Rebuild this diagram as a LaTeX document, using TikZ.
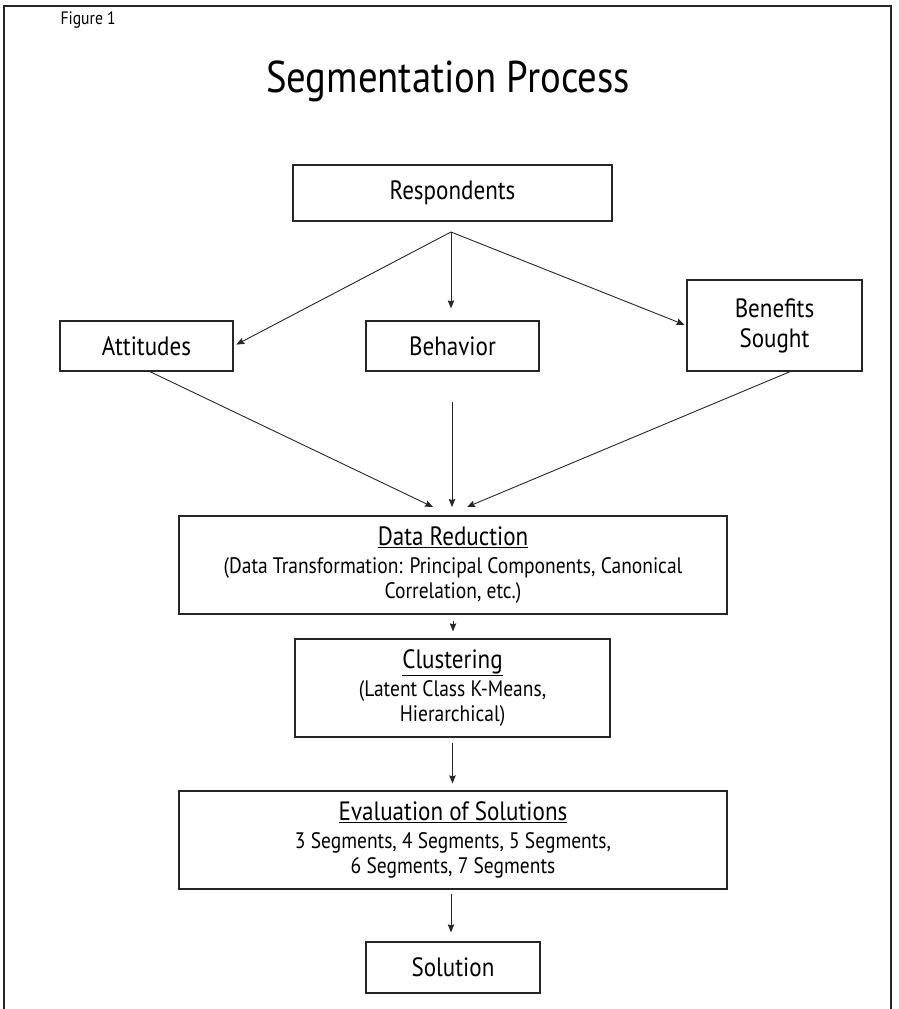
\documentclass[tikz,border=0pt]{standalone}
\usepackage{fontspec}
\setmainfont[FakeStretch=0.87]{PT Sans}
\usetikzlibrary{arrows.meta}
\newcommand\hdfont{\fontsize{26.5}{27}\selectfont}
\newcommand\smfont{\fontsize{22.4}{27}\selectfont}
\begin{document}
\begin{tikzpicture}[x=1pt,y=-1pt,
  box/.style={draw=black!85, line width=1.3pt, inner sep=0pt, align=center, font=\hdfont},
  arr/.style={-{Stealth[length=8pt,width=6.5pt,inset=1pt]}, line width=0.9pt, draw=black!85}]
\useasboundingbox (0,0) rectangle (898,1009);
% frame
\draw[line width=1.5pt, black!85] (4,1009) -- (4,6) -- (891,6) -- (891,1009);
% texts
\node[font=\fontsize{18}{20}\selectfont, anchor=west] (fig) at (57,20) {Figure 1};
\node[font=\fontsize{44.5}{48}\selectfont] (title) at (448,81) {Segmentation Process};
% boxes
\node[box, minimum width=319pt, minimum height=56pt] (resp) at (452.5,193) {Respondents};
\coordinate (br) at (451,232);
\node[box, minimum width=173pt, minimum height=50pt] (att) at (146.5,346) {Attitudes};
\node[box, minimum width=173pt, minimum height=50pt] (beh) at (452.5,346) {Behavior};
\node[box, minimum width=175pt, minimum height=91pt] (ben) at (774.5,325.5) {Benefits\\[3pt]Sought};
\node[box, minimum width=548pt, minimum height=98pt] (dr) at (453,565)
  {\underline{Data Reduction}\\[1pt]\smfont (Data Transformation: Principal Components, Canonical\\[-2pt]\smfont Correlation, etc.)};
\node[box, minimum width=315pt, minimum height=98pt] (cl) at (452.5,688)
  {\underline{Clustering}\\[1pt]\smfont (Latent Class K-Means,\\[-2pt]\smfont Hierarchical)};
\node[box, minimum width=548pt, minimum height=98pt] (ev) at (453,840)
  {\underline{Evaluation of Solutions}\\[1pt]\smfont 3 Segments, 4 Segments, 5 Segments,\\[-2pt]\smfont 6 Segments, 7 Segments};
\node[box, minimum width=174pt, minimum height=51pt] (sol) at (453,967.5) {Solution};
% connectors
\draw[arr, shorten >=3pt] (br) -- (att.east);
\draw[arr, shorten >=12pt] (br) -- (br |- beh.north);
\draw[arr, shorten >=2pt] (br) -- (ben.west);
\coordinate (t1) at (433,507);
\coordinate (t2) at (452,507);
\coordinate (t3) at (467,507);
\coordinate (b1) at (452,402);
\draw[arr] ([xshift=3.5pt]att.south) -- (t1);
\draw[arr] (b1) -- (t2);
\draw[arr] ([xshift=15.5pt]ben.south) -- (t3);
\draw[arr] ([yshift=-6pt]dr.south) -- ([yshift=7pt]dr.south |- cl.north);
\draw[arr] ([yshift=-5pt]cl.south) -- ([yshift=7pt]cl.south |- ev.north);
\draw[arr] ([yshift=-4pt,xshift=-2pt]ev.south) -- ([yshift=9pt,xshift=-2pt]ev.south |- sol.north);
\end{tikzpicture}
\end{document}
